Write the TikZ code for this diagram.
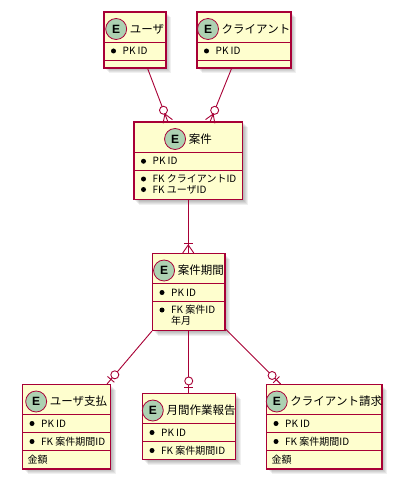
\documentclass[tikz,border=0pt]{standalone}
\usepackage{fontspec}
\setmainfont{Noto Sans CJK JP}
\newfontfamily\efont{Liberation Sans}
\usetikzlibrary{calc}
\definecolor{bord}{HTML}{A80036}
\definecolor{boxfill}{HTML}{FEFECE}
\definecolor{ecol}{HTML}{ADD1B2}
\tikzset{
 ebox/.style={draw=bord, line width=1.1pt, fill=boxfill, rectangle, inner sep=0pt},
 div/.style={draw=bord, line width=0.9pt},
 htext/.style={inner sep=0pt, font=\fontsize{11.5}{13}\selectfont},
 ecirc/.style={circle, draw=bord, fill=ecol, line width=0.8pt, minimum size=21pt, inner sep=0pt, font=\efont\bfseries\fontsize{12}{12}\selectfont},
 attr/.style={inner sep=0pt, anchor=base west, font=\fontsize{10}{12}\selectfont},
 rel/.style={draw=bord, line width=0.9pt},
 relc/.style={draw=bord, fill=white, line width=0.9pt},
}
% entity box: name, left, right, top, bottom, title
\newcommand\ent[6]{%
 \foreach \s in {1,2,3,4,5}
   \fill[black,opacity=0.06] ({#2+\s},{#4+\s}) rectangle ({#3+\s},{#5+\s});
 \node[ebox, minimum width={(#3-#2)*1pt}, minimum height={(#5-#4)*1pt}] (#1) at ({(#2+#3)/2},{(#4+#5)/2}) {};
 \node[htext] (#1h) at ({(#2+#3)/2+12},{#4+17}) {#6};
 \node[ecirc] (#1e) at ([xshift=-13.5pt]#1h.west) {E};
}
% divider: left, right, y
\newcommand\hdiv[3]{\draw[div] (#1,#3) -- (#2,#3);}
% bulleted attribute: node name, left, y centre, text
\newcommand\battr[4]{%
 \fill[black] ({#2+9.5},{#3}) circle (2.5pt);
 \node[attr] (#1) at ({#2+18.5},{#3+3.7}) {#4};
}
% plain attribute: node name, x, y centre, text
\newcommand\pattr[4]{\node[attr] (#1) at ({#2},{#3+3.7}) {#4};}
% relation ends (#1 = far point, #2 = end on the box)
\newcommand\zeromany[2]{%
 \draw[rel] ($(#2)!8pt!(#1)$) -- ($(#2)!5pt!90:(#1)$);
 \draw[rel] ($(#2)!8pt!(#1)$) -- ($(#2)!5pt!-90:(#1)$);
 \draw[relc] ($(#2)!12pt!(#1)$) circle (4pt);
}
\newcommand\onemany[2]{%
 \draw[rel] ($(#2)!8pt!(#1)$) -- ($(#2)!5.5pt!90:(#1)$);
 \draw[rel] ($(#2)!8pt!(#1)$) -- ($(#2)!5.5pt!-90:(#1)$);
 \draw[rel] ($(#2)!10pt!(#1)!4.5pt!90:(#1)$) -- ($(#2)!10pt!(#1)!4.5pt!-90:(#1)$);
}
\newcommand\zeroone[2]{%
 \draw[rel] ($(#2)!6pt!(#1)!4.5pt!90:(#1)$) -- ($(#2)!6pt!(#1)!4.5pt!-90:(#1)$);
 \draw[relc] ($(#2)!12pt!(#1)$) circle (4pt);
}
\begin{document}
\begin{tikzpicture}[x=1pt,y=-1pt]
\fill[white] (0,0) rectangle (404,492);
\useasboundingbox (0,0) rectangle (404,492);

% ---- entities
\ent{user}{104}{166}{12}{68}{ユーザ}
\hdiv{104}{166}{42}\hdiv{104}{166}{60}
\battr{userpk}{104}{51}{PK ID}

\ent{client}{197}{291}{12}{68}{クライアント}
\hdiv{197}{291}{42}\hdiv{197}{291}{60}
\battr{clientpk}{197}{51}{PK ID}

\ent{proj}{134}{242.5}{122}{199.5}{案件}
\hdiv{134}{242.5}{152}\hdiv{134}{242.5}{170.5}
\battr{projpk}{134}{161.25}{PK ID}
\battr{projfka}{134}{179}{FK クライアントID}
\battr{projfkb}{134}{189.5}{FK ユーザID}

\ent{period}{152.5}{225}{253.5}{330.5}{案件期間}
\hdiv{152.5}{225}{283.5}\hdiv{152.5}{225}{301.5}
\battr{periodpk}{152.5}{292.5}{PK ID}
\battr{periodfk}{152.5}{310}{FK 案件ID}
\pattr{periodym}{171}{321}{年月}

\ent{upay}{22.5}{110.5}{384.5}{469}{ユーザ支払}
\hdiv{22.5}{110.5}{414.5}\hdiv{22.5}{110.5}{432.5}\hdiv{22.5}{110.5}{450.5}
\battr{upaypk}{22.5}{423.5}{PK ID}
\battr{upayfk}{22.5}{441.5}{FK 案件期間ID}
\pattr{upayamt}{27.5}{459.75}{金額}

\ent{report}{142.5}{235.5}{393.5}{459.5}{月間作業報告}
\hdiv{142.5}{235.5}{423.5}\hdiv{142.5}{235.5}{441.5}
\battr{reportpk}{142.5}{432.5}{PK ID}
\battr{reportfk}{142.5}{450.5}{FK 案件期間ID}

\ent{cbill}{266.5}{382}{384.5}{469}{クライアント請求}
\hdiv{266.5}{382}{414.5}\hdiv{266.5}{382}{432.5}\hdiv{266.5}{382}{450.5}
\battr{cbillpk}{266.5}{423.5}{PK ID}
\battr{cbillfk}{266.5}{441.5}{FK 案件期間ID}
\pattr{cbillamt}{271.5}{459.75}{金額}

% ---- connector end points
\coordinate (u1) at ($(user.south west)!0.70!(user.south east)$);
\coordinate (p1) at ($(proj.north west)!0.313!(proj.north east)$);
\coordinate (c1) at ($(client.south west)!0.369!(client.south east)$);
\coordinate (p2) at ($(proj.north west)!0.70!(proj.north east)$);
\coordinate (p3) at (proj.south);
\coordinate (q3) at (proj.south |- period.north);
\coordinate (q4) at (period.south west);
\coordinate (r4) at ($(upay.north west)!0.955!(upay.north east)$);
\coordinate (q5) at (period.south);
\coordinate (r5) at (period.south |- report.north);
\coordinate (q6) at ($(period.south east)+(0,-2)$);
\coordinate (r6) at ($(cbill.north west)!0.1255!(cbill.north east)$);

% ---- connectors
\draw[rel] (u1) -- (p1);
\draw[rel] (c1) -- (p2);
\draw[rel] (p3) -- (q3);
\draw[rel] (q4) -- (r4);
\draw[rel] (q5) -- (r5);
\draw[rel] (q6) -- (r6);

\zeromany{u1}{p1}
\zeromany{c1}{p2}
\onemany{p3}{q3}
\zeroone{q4}{r4}
\zeroone{q5}{r5}
\zeroone{q6}{r6}
\end{tikzpicture}
\end{document}
